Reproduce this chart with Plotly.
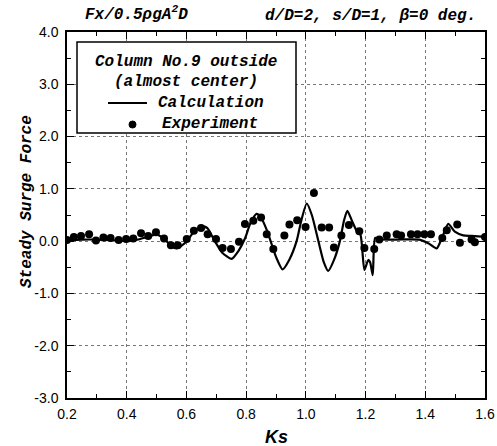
import plotly.graph_objects as go

# ---- data ----
exp_ks = [0.200, 0.223, 0.247, 0.274, 0.297, 0.322, 0.346, 0.373, 0.398, 0.422,
          0.448, 0.472, 0.498, 0.525, 0.548, 0.571, 0.601, 0.625, 0.649, 0.671,
          0.699, 0.721, 0.749, 0.776, 0.796, 0.824, 0.850, 0.869, 0.891, 0.928,
          0.945, 0.971, 0.999, 1.027, 1.053, 1.078, 1.094, 1.119, 1.144, 1.179,
          1.196, 1.229, 1.246, 1.271, 1.304, 1.319, 1.352, 1.374, 1.397, 1.419,
          1.457, 1.472, 1.507, 1.516, 1.555, 1.566, 1.600]
exp_force = [0.02, 0.08, 0.10, 0.13, 0.01, 0.07, 0.06, 0.02, 0.04, 0.05,
             0.15, 0.10, 0.17, 0.05, -0.08, -0.08, 0.04, 0.20, 0.25, 0.13,
             0.04, -0.13, -0.15, -0.01, 0.33, 0.39, 0.45, 0.13, -0.15, 0.11,
             0.32, 0.40, 0.27, 0.92, 0.26, 0.26, -0.12, 0.11, 0.31, 0.19,
             -0.13, -0.15, 0.03, 0.11, 0.13, 0.11, 0.13, 0.13, 0.13, 0.13,
             0.06, 0.21, 0.32, -0.03, 0.03, -0.02, 0.08]

calc_ks = [0.20, 0.25, 0.30, 0.35, 0.40, 0.43, 0.47, 0.50, 0.53, 0.55,
           0.567, 0.585, 0.601, 0.625, 0.651, 0.670, 0.695, 0.720, 0.751, 0.775,
           0.796, 0.815, 0.835, 0.850, 0.870, 0.885, 0.900, 0.922, 0.945, 0.969,
           0.985, 1.003, 1.020, 1.042, 1.060, 1.075, 1.095, 1.114, 1.128, 1.139,
           1.155, 1.170, 1.183, 1.196, 1.209, 1.215, 1.224, 1.232, 1.245, 1.300,
           1.380, 1.410, 1.438, 1.455, 1.477, 1.499, 1.527, 1.555, 1.600]
calc_force = [0.02, 0.03, 0.03, 0.02, 0.00, 0.02, 0.08, 0.13, 0.02, -0.10,
              -0.14, -0.08, 0.00, 0.18, 0.29, 0.25, 0.00, -0.22, -0.34, -0.18,
              0.05, 0.35, 0.52, 0.45, 0.20, -0.05, -0.30, -0.54, -0.35, 0.00,
              0.40, 0.72, 0.50, 0.00, -0.40, -0.57, -0.35, 0.00, 0.40, 0.58,
              0.38, 0.20, 0.12, -0.55, -0.36, -0.40, -0.65, 0.06, 0.04, 0.03,
              0.03, -0.04, -0.14, 0.05, 0.33, 0.18, 0.11, 0.10, 0.08]

x_ticks = [0.2, 0.4, 0.6, 0.8, 1.0, 1.2, 1.4, 1.6]
y_ticks = [-3.0, -2.0, -1.0, 0.0, 1.0, 2.0, 3.0, 4.0]

mono = "Liberation Mono, Courier New, monospace"
sans = "Liberation Sans, Arial, sans-serif"

fig = go.Figure()
fig.add_trace(go.Scatter(x=calc_ks, y=calc_force, mode="lines",
                         line=dict(color="black", width=2.2, shape="spline",
                                   smoothing=0.6),
                         name="Calculation", showlegend=False))
fig.add_trace(go.Scatter(x=exp_ks, y=exp_force, mode="markers",
                         marker=dict(color="black", size=8), name="Experiment",
                         showlegend=False))

axis_common = dict(
    showline=True, linecolor="black", linewidth=1.5, mirror="ticks",
    ticks="inside", ticklen=7, tickwidth=1.2, tickcolor="black",
    showgrid=True, gridcolor="#777", griddash="dot", gridwidth=1,
    zeroline=False,
    tickfont=dict(family=sans, size=14, color="black"),
)

fig.update_xaxes(range=[0.2, 1.6], tickvals=x_ticks,
                 ticktext=[f"{v:.1f}" for v in x_ticks],
                 minor=dict(dtick=0.1, tick0=0.2, ticks="inside", ticklen=4,
                            tickcolor="black", showgrid=False),
                 ticklabelstandoff=2,
                 **axis_common)
fig.update_yaxes(range=[-3.0, 4.0], tickvals=y_ticks,
                 ticktext=[f"{v:.1f}" for v in y_ticks],
                 minor=dict(dtick=0.5, tick0=0, ticks="inside", ticklen=4,
                            tickcolor="black", showgrid=False),
                 ticklabelstandoff=4,
                 **axis_common)

bi = dict(family=mono, size=16, color="black", weight="bold", style="italic")

L, R, T, B = 67, 485, 32, 398


def px2x(px):
    return (px - L) / (R - L)


def py2y(py):
    return (B - py) / (B - T)


def ann(text, px, py, xanchor="center", font=bi, **kw):
    return dict(text=text, xref="paper", yref="paper", x=px2x(px), y=py2y(py),
                xanchor=xanchor, yanchor="middle", showarrow=False, font=font, **kw)


annotations = [
    ann("Ks", 276, 437, font=dict(family=sans, size=18, color="black",
                                   weight="bold", style="italic")),
    ann("Steady Surge Force", 27, 202, textangle=-90),
    ann("Fx/0.5ρgA<sup>2</sup>D", 136, 14),
    ann("d/D=2, s/D=1, β=0 deg.", 478, 16, xanchor="right"),
    # legend texts
    ann("Column No.9 outside", 186, 62),
    ann("(almost center)", 186, 82),
    ann("Calculation", 156, 103, xanchor="left"),
    ann("Experiment", 160, 124, xanchor="left"),
]

shapes = [
    dict(type="rect", xref="paper", yref="paper",
         x0=px2x(77), x1=px2x(296), y0=py2y(133), y1=py2y(42),
         line=dict(color="black", width=1.5), fillcolor="white", layer="above"),
    dict(type="line", xref="paper", yref="paper",
         x0=px2x(108), x1=px2x(147), y0=py2y(103), y1=py2y(103),
         line=dict(color="black", width=2)),
    dict(type="circle", xref="paper", yref="paper",
         x0=px2x(129), x1=px2x(136), y0=py2y(128), y1=py2y(121),
         line=dict(color="black", width=1), fillcolor="black"),
]

fig.update_layout(
    width=497, height=446,
    margin=dict(l=L, r=497 - R, t=T, b=446 - B, autoexpand=False),
    paper_bgcolor="white", plot_bgcolor="white",
    showlegend=False,
    annotations=annotations,
    shapes=shapes,
)

fig.write_html("out.html")
